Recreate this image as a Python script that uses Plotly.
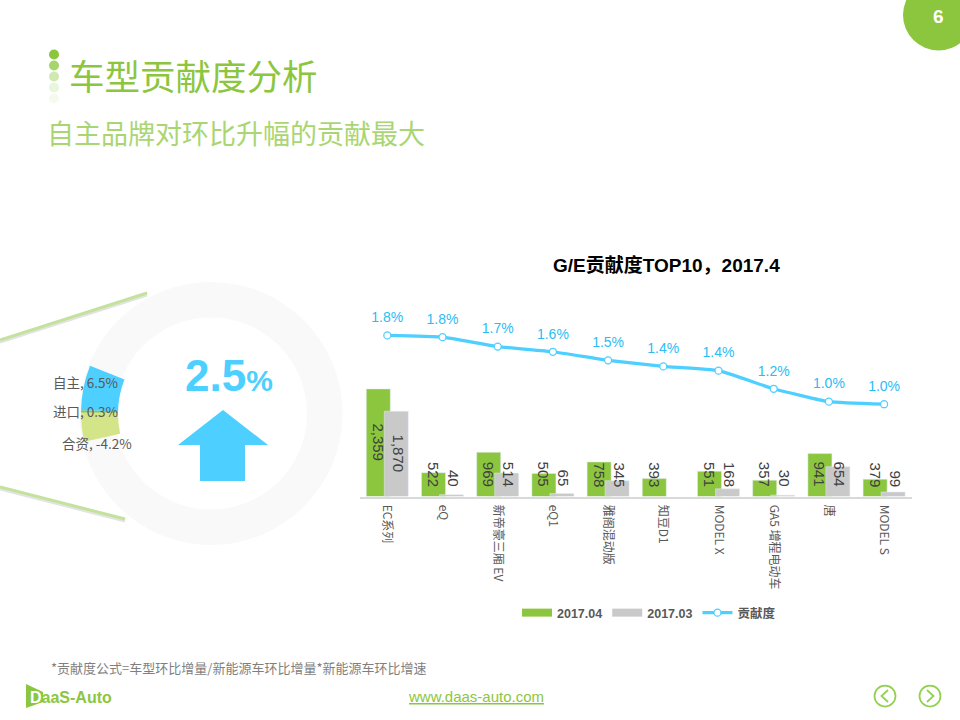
import plotly.graph_objects as go

categories = ["EC系列", "eQ", "新帝豪三厢 EV", "eQ1", "雅阁混动版", "知豆D1", "MODEL X", "GA5 增程电动车", "唐", "MODEL S"]
sales_2017_04 = [2359, 522, 969, 505, 758, 393, 551, 357, 941, 379]
sales_2017_03 = [1870, 40, 514, 65, 345, None, 168, 30, 654, 99]
contribution = [1.8, 1.78, 1.67, 1.61, 1.51, 1.44, 1.39, 1.18, 1.03, 1.0]
donut_labels = ["自主", "进口", "合资"]
donut_values = [6.5, 0.3, -4.2]
donut_rest = 105.5
headline_value = "2.5"

GREEN = "#8cc63f"
GREY = "#c9c9c9"
BLUE = "#4dcfff"
W, H = 960, 720


def px(x):
    return x / W


def py(y):
    return 1 - y / H


def svg_path(points):
    return "M" + " L".join(f"{px(a):.5f},{py(b):.5f}" for a, b in points) + " Z"


def open_path(points):
    return "M" + " L".join(f"{px(a):.5f},{py(b):.5f}" for a, b in points)


def circle(cx, cy, r, fill, line=None, lw=0):
    return dict(type="circle", xref="paper", yref="paper",
                x0=px(cx - r), x1=px(cx + r), y0=py(cy + r), y1=py(cy - r),
                fillcolor=fill, line=dict(color=line or fill, width=lw), layer="below")


def note(text, x, y, size, color, xanchor="center", bold=False, family="Noto Sans CJK SC"):
    return dict(text=f"<b>{text}</b>" if bold else text, xref="paper", yref="paper",
                x=px(x), y=py(y), xanchor=xanchor, yanchor="middle", showarrow=False,
                font=dict(size=size, color=color, family=family))


fig = go.Figure()

# Donut: background ring and contribution slices (clockwise from the lower edge)
ring_cx, ring_cy, ring_r = 211, 413.5, 131.5
fig.add_trace(go.Pie(values=[1], labels=["背景"], hole=96 / 131.5, sort=False, textinfo="none",
                     marker=dict(colors=["#f9f9f9"], line=dict(width=0)), hoverinfo="skip",
                     showlegend=False,
                     domain=dict(x=[px(ring_cx - ring_r), px(ring_cx + ring_r)],
                                 y=[py(ring_cy + ring_r), py(ring_cy - ring_r)])))
seg_r = 130
fig.add_trace(go.Pie(values=[abs(v) for v in donut_values[::-1]] + [donut_rest],
                     labels=donut_labels[::-1] + ["其他"], hole=93 / 130, sort=False,
                     direction="clockwise", rotation=257.5, textinfo="none",
                     marker=dict(colors=["#d3e588", GREEN, BLUE, "rgba(0,0,0,0)"], line=dict(width=0)),
                     showlegend=False,
                     domain=dict(x=[px(ring_cx - seg_r), px(ring_cx + seg_r)],
                                 y=[py(ring_cy + seg_r), py(ring_cy - seg_r)])))

# Bars
BAR_W = 24 / 55.2
fig.add_trace(go.Bar(x=categories, y=sales_2017_04, name="2017.04", marker_color=GREEN,
                     width=BAR_W, offset=-21 / 55.2, legendgroup="a", showlegend=False))
fig.add_trace(go.Bar(x=categories, y=sales_2017_03, name="2017.03", marker_color=GREY,
                     width=BAR_W, offset=-3 / 55.2, legendgroup="b", showlegend=False))
# Wide legend keys tied to the bars through their legend groups
fig.add_trace(go.Scatter(x=[None], y=[None], mode="lines", name="2017.04", legendgroup="a",
                         line=dict(color=GREEN, width=8)))
fig.add_trace(go.Scatter(x=[None], y=[None], mode="lines", name="2017.03", legendgroup="b",
                         line=dict(color=GREY, width=8)))
fig.add_trace(go.Scatter(x=categories, y=contribution, yaxis="y2", name="贡献度",
                         mode="lines+markers", legendgroup="c",
                         line=dict(color=BLUE, width=3.25, shape="spline", smoothing=0.4),
                         marker=dict(size=7, color="white", line=dict(color=BLUE, width=1.25))))
# Value labels sit a little further above the points than the visible markers allow
fig.add_trace(go.Scatter(x=categories, y=contribution, yaxis="y2", name="贡献度",
                         mode="markers+text", legendgroup="c", showlegend=False, hoverinfo="skip",
                         marker=dict(size=14, color="rgba(0,0,0,0)"),
                         text=[f"{v:.1f}%" for v in contribution], textposition="top center",
                         textfont=dict(size=14, color="#2bbcf5", family="Liberation Sans")))

annotations = []
for series, shift in ((sales_2017_04, -9), (sales_2017_03, 11)):
    for cat, v in zip(categories, series):
        if v is None:
            continue
        tall = v > 1000
        annotations.append(dict(text=f"{v:,}", x=cat, xref="x", yref="y",
                                y=v / 2 if tall else 0, yshift=0 if tall else 7.5,
                                xshift=shift, textangle=90, showarrow=False,
                                yanchor="middle" if tall else "bottom",
                                font=dict(size=15, color="#404040", family="Liberation Sans")))

label_pos = [(51, 382, "left"), (51, 411, "left"), (60, 443, "left")]
for name, v, (x, y, anchor) in zip(donut_labels, donut_values, label_pos):
    annotations.append(note(f"{name}, {v}%", x, y, 13.5, "#595959", xanchor=anchor))

annotations += [
    note("车型贡献度分析", 67, 75, 35.5, GREEN, xanchor="left"),
    note("自主品牌对环比升幅的贡献最大", 45, 132, 27, "#a9d672", xanchor="left"),
    note("G/E贡献度TOP10，2017.4", 666, 265, 19, "#000000", bold=True,
         family="Liberation Sans, Noto Sans CJK SC"),
    note(f'<b>{headline_value}<span style="font-size:30px">%</span></b>', 229, 375, 44, BLUE,
         family="Liberation Sans"),
    note("<b>6</b>", 938, 16, 19, "#ffffff", family="Liberation Sans"),
    note("*贡献度公式=车型环比增量/新能源车环比增量*新能源车环比增速", 49, 667, 13, "#7f7f7f", xanchor="left"),
    note("<u>www.daas-auto.com</u>", 475.5, 696, 15, GREEN, family="Liberation Sans"),
    note('<b><span style="color:#ffffff">D</span>aaS-Auto</b>', 28, 697, 16, GREEN, xanchor="left",
         family="Liberation Sans"),
]

shapes = [
    circle(938.5, 15, 35.5, GREEN),
    dict(type="path", xref="paper", yref="paper", layer="below", line=dict(width=0), fillcolor=GREEN,
         path=svg_path([(26, 684), (43, 692), (43, 702), (26, 708)])),
    # Arrow
    dict(type="path", xref="paper", yref="paper", line=dict(width=0), fillcolor=BLUE,
         path=svg_path([(223, 410), (268, 445), (245, 445), (245, 481), (200, 481), (200, 445), (178, 445)])),
]
for i, c in enumerate(["#8cc63f", "#a5d66a", "#cfe9b0", "#e9f5dc", "#f5faef"]):
    shapes.append(circle(54, 54.5 + 11 * i, 5, c))
for a, b in (((0, 342), (147, 295)), ((0, 489), (125, 521))):
    shapes.append(dict(type="line", xref="paper", yref="paper", layer="below",
                       x0=px(a[0]), y0=py(a[1]), x1=px(b[0]), y1=py(b[1]),
                       line=dict(color="#e3e3e3", width=3)))
for a, b in (((0, 340), (147, 293)), ((0, 487), (125, 519))):
    shapes.append(dict(type="line", xref="paper", yref="paper", layer="below",
                       x0=px(a[0]), y0=py(a[1]), x1=px(b[0]), y1=py(b[1]),
                       line=dict(color="#c3e29c", width=3)))
NAV = "#92d050"
for cx, pts in ((885, [(888, 690), (881.5, 696), (888, 702)]), (930, [(927, 690), (933.5, 696), (927, 702)])):
    shapes.append(circle(cx, 696, 10.5, "rgba(0,0,0,0)", NAV, 1.75))
    shapes.append(dict(type="path", xref="paper", yref="paper", path=open_path(pts),
                       line=dict(color=NAV, width=1.75)))

base_y, top_y = 496.5, 300
fig.update_layout(
    width=W, height=H, margin=dict(l=0, r=0, t=0, b=0), autosize=False,
    paper_bgcolor="white", plot_bgcolor="rgba(0,0,0,0)", barmode="overlay",
    font=dict(family="Noto Sans CJK SC", color="#595959"),
    xaxis=dict(domain=[px(359.7), px(911.7)], type="category", categoryorder="array",
               categoryarray=categories, range=[-0.5, 9.5], tickangle=90, ticks="", showgrid=False,
               showline=True, linecolor="#d9d9d9", linewidth=1.5,
               tickfont=dict(size=12, color="#595959", family="Noto Sans CJK SC"), ticklabelstandoff=4),
    yaxis=dict(domain=[py(base_y), py(top_y)], range=[0, (base_y - top_y) / 0.0456], visible=False),
    yaxis2=dict(domain=[py(base_y), py(top_y)], overlaying="y", visible=False,
                range=[1.0 - (base_y - 404) / 86.25, 1.8 + (335.5 - top_y) / 86.25]),
    legend=dict(orientation="h", x=px(649), y=py(613), xanchor="center", yanchor="middle",
                font=dict(size=12.5, color="#595959", family="Liberation Sans, Noto Sans CJK SC", weight="bold"),
                itemwidth=30, bgcolor="rgba(0,0,0,0)", tracegroupgap=0),
    annotations=annotations, shapes=shapes,
)

fig.write_html("out.html", config=dict(displayModeBar=False),
               post_script="document.body.style.margin='0';")
